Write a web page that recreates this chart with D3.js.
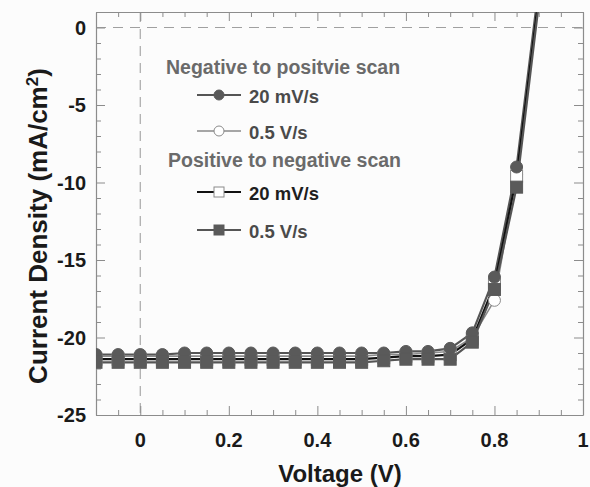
<!DOCTYPE html>
<html>
<head>
<meta charset="utf-8">
<script src="https://cdn.jsdelivr.net/npm/d3@7/dist/d3.min.js"></script>
<style>
  html, body { margin: 0; padding: 0; background: #fcfcfc; }
  svg { display: block; font-family: "Liberation Sans", Arial, sans-serif; }
</style>
</head>
<body>
<svg id="chart" width="590" height="487"></svg>
<script>
// J–V sweep data: voltage (V) and current density (mA/cm^2) per scan
const voltage = [-0.1, -0.05, 0, 0.05, 0.1, 0.15, 0.2, 0.25, 0.3, 0.35, 0.4, 0.45, 0.5, 0.55, 0.6, 0.65, 0.7, 0.75, 0.8, 0.85, 0.9];
const negPos20mV = [-21.1, -21.1, -21.1, -21.1, -21.0, -21.0, -21.0, -21.0, -21.0, -21.0, -21.0, -21.0, -21.0, -21.0, -20.9, -20.9, -20.7, -19.7, -16.1, -9.0, 2.6];
const negPos05V  = [-21.2, -21.2, -21.2, -21.2, -21.2, -21.2, -21.2, -21.2, -21.2, -21.2, -21.2, -21.2, -21.2, -21.1, -21.1, -21.0, -20.9, -20.0, -17.6, -9.5, 2.2];
const posNeg20mV = [-21.4, -21.4, -21.4, -21.4, -21.4, -21.4, -21.4, -21.4, -21.4, -21.4, -21.4, -21.4, -21.4, -21.3, -21.2, -21.2, -21.1, -20.1, -16.6, -9.6, 2.0];
const posNeg05V  = [-21.6, -21.6, -21.6, -21.6, -21.6, -21.6, -21.6, -21.6, -21.6, -21.6, -21.6, -21.6, -21.6, -21.5, -21.4, -21.4, -21.4, -20.3, -16.9, -10.3, 1.5];

const xTicks = [0, 0.2, 0.4, 0.6, 0.8, 1];
const xTickLabels = ["0", "0.2", "0.4", "0.6", "0.8", "1"];
const yTicks = [0, -5, -10, -15, -20, -25];
const yTickLabels = ["0", "-5", "-10", "-15", "-20", "-25"];

const headingNegPos = "Negative to positvie scan";
const headingPosNeg = "Positive to negative scan";
const seriesLabels = ["20 mV/s", "0.5 V/s", "20 mV/s", "0.5 V/s"];

const series = [
  { values: negPos20mV, shape: "circle", filled: true,  line: "#555", width: 2.2, text: "#4a4a4a" },
  { values: negPos05V,  shape: "circle", filled: false, line: "#8a8a8a", width: 1.6, text: "#4a4a4a" },
  { values: posNeg20mV, shape: "square", filled: false, line: "#111", width: 2.2, text: "#1e1e1e" },
  { values: posNeg05V,  shape: "square", filled: true,  line: "#555", width: 2.2, text: "#4a4a4a" }
];

const svg = d3.select("#chart");
const m = { left: 96, right: 583, top: 12, bottom: 415 };

const x = d3.scaleLinear().domain([-0.1, 1.0]).range([m.left, m.right]);
const y = d3.scaleLinear().domain([-25, 1]).range([m.bottom, m.top]);

const axisColor = "#8c8c8c";

svg.append("defs").append("clipPath").attr("id", "plotClip")
  .append("rect").attr("x", m.left).attr("y", m.top)
  .attr("width", m.right - m.left).attr("height", m.bottom - m.top);

// reference lines at V = 0 and J = 0
svg.append("line")
  .attr("x1", m.left).attr("x2", m.right).attr("y1", y(0)).attr("y2", y(0))
  .attr("stroke", "#a0a0a0").attr("stroke-width", 1.2).attr("stroke-dasharray", "10,7");
svg.append("line")
  .attr("x1", x(0)).attr("x2", x(0)).attr("y1", m.top).attr("y2", m.bottom)
  .attr("stroke", "#a8a8a8").attr("stroke-width", 1.2).attr("stroke-dasharray", "10,7");

// frame with inward ticks on all four sides
const minorX = d3.range(-0.1, 1.0001, 0.05).map(v => +v.toFixed(2));
const minorY = d3.range(-25, 1.001, 1);

function addAxis(axisGen, transform) {
  const g = svg.append("g").attr("transform", transform).call(axisGen);
  g.selectAll("text").remove();
  g.select(".domain").attr("stroke", axisColor).attr("stroke-width", 1.2);
  g.selectAll(".tick line").attr("stroke", axisColor).attr("stroke-width", 1);
  return g;
}

const isMajorX = v => xTicks.some(t => Math.abs(t - v) < 1e-6);
const isMajorY = v => yTicks.some(t => Math.abs(t - v) < 1e-6);

addAxis(d3.axisBottom(x).tickValues(minorX).tickSizeOuter(0).tickSizeInner(0), `translate(0,${m.bottom})`)
  .selectAll(".tick line").attr("y2", d => isMajorX(d) ? -9 : -5);
addAxis(d3.axisTop(x).tickValues(minorX).tickSizeOuter(0).tickSizeInner(0), `translate(0,${m.top})`)
  .selectAll(".tick line").attr("y2", d => isMajorX(d) ? 9 : 5);
addAxis(d3.axisLeft(y).tickValues(minorY).tickSizeOuter(0).tickSizeInner(0), `translate(${m.left},0)`)
  .selectAll(".tick line").attr("x2", d => isMajorY(d) ? 9 : 5);
addAxis(d3.axisRight(y).tickValues(minorY).tickSizeOuter(0).tickSizeInner(0), `translate(${m.right},0)`)
  .selectAll(".tick line").attr("x2", d => isMajorY(d) ? -9 : -5);

// tick labels
svg.append("g").selectAll("text").data(xTicks).join("text")
  .attr("x", d => x(d)).attr("y", 447)
  .attr("text-anchor", "middle")
  .attr("font-size", 20).attr("font-weight", "bold").attr("fill", "#1a1a1a")
  .text((d, i) => xTickLabels[i]);
svg.append("g").selectAll("text").data(yTicks).join("text")
  .attr("x", 86).attr("y", d => y(d) + 7)
  .attr("text-anchor", "end")
  .attr("font-size", 20).attr("font-weight", "bold").attr("fill", "#1a1a1a")
  .text((d, i) => yTickLabels[i]);

// axis titles
svg.append("text")
  .attr("x", 340).attr("y", 482)
  .attr("text-anchor", "middle")
  .attr("font-size", 24).attr("font-weight", "bold").attr("fill", "#1a1a1a")
  .text("Voltage (V)");
const yTitle = svg.append("text")
  .attr("transform", "translate(47,226) rotate(-90)")
  .attr("text-anchor", "middle")
  .attr("font-size", 26).attr("font-weight", "bold").attr("fill", "#1a1a1a");
yTitle.append("tspan").text("Current Density (mA/cm");
yTitle.append("tspan").attr("baseline-shift", "super").attr("font-size", 17).text("2");
yTitle.append("tspan").text(")");

// curves
const plot = svg.append("g").attr("clip-path", "url(#plotClip)");
const lineGen = d3.line().x(d => x(d[0])).y(d => y(d[1]));

series.forEach(s => {
  plot.append("path")
    .datum(voltage.map((v, i) => [v, s.values[i]]))
    .attr("fill", "none").attr("stroke", s.line).attr("stroke-width", s.width)
    .attr("d", lineGen);
});

const markFill = "#5a5a5a";
function drawMarker(g, shape, filled, cx, cy, size) {
  const fill = filled ? markFill : "#ffffff";
  const stroke = filled ? markFill : "#8a8a8a";
  if (shape === "circle") {
    g.append("circle").attr("cx", cx).attr("cy", cy).attr("r", size / 2)
      .attr("fill", fill).attr("stroke", stroke).attr("stroke-width", 1);
  } else {
    g.append("rect").attr("x", cx - size / 2).attr("y", cy - size / 2)
      .attr("width", size).attr("height", size)
      .attr("fill", fill).attr("stroke", stroke).attr("stroke-width", 1);
  }
}

// open markers first, filled ones on top
[1, 2, 0, 3].forEach(k => {
  const s = series[k];
  const g = plot.append("g");
  voltage.forEach((v, i) => drawMarker(g, s.shape, s.filled, x(v), y(s.values[i]), 12));
});

// legend
const legend = svg.append("g");
legend.append("text").attr("x", 166).attr("y", 74)
  .attr("font-size", 19.5).attr("font-weight", "bold").attr("fill", "#6a6a6a").text(headingNegPos);
legend.append("text").attr("x", 168).attr("y", 167)
  .attr("font-size", 19.5).attr("font-weight", "bold").attr("fill", "#6a6a6a").text(headingPosNeg);

const legendRows = [95, 131, 192, 230];
series.forEach((s, k) => {
  const ly = legendRows[k];
  legend.append("line").attr("x1", 197).attr("x2", 241).attr("y1", ly).attr("y2", ly)
    .attr("stroke", s.line).attr("stroke-width", s.width);
  drawMarker(legend, s.shape, s.filled, 219, ly, 10);
  legend.append("text").attr("x", 249).attr("y", ly + 7.5)
    .attr("font-size", 18.5).attr("font-weight", "bold").attr("fill", s.text).text(seriesLabels[k]);
});
</script>
</body>
</html>
